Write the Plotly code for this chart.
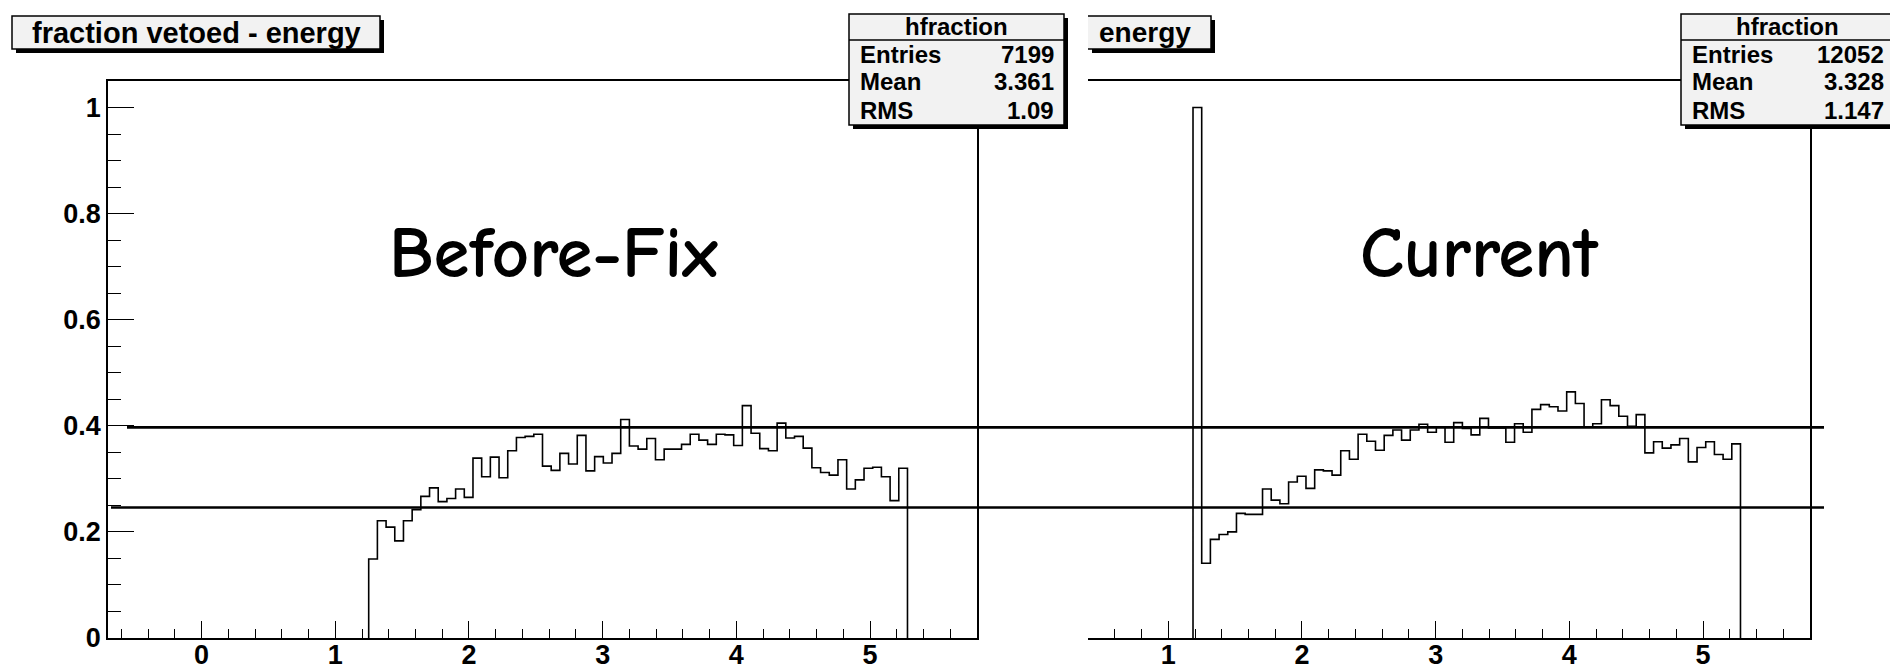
import numpy as np
import plotly.graph_objects as go

# ---------------- data ----------------
# histogram binning (hfraction): 100 bins from -0.7 to 5.8
X_MIN, X_MAX, N_BINS = -0.7, 5.8, 100
Y_MAX = 1.05

# "Before-Fix" histogram: contents of bins 30..91
before_first_bin = 30
before_values = [
    0.149, 0.221, 0.209, 0.183, 0.221, 0.242, 0.267, 0.283, 0.257, 0.263,
    0.281, 0.265, 0.339, 0.304, 0.341, 0.302, 0.353, 0.378, 0.380, 0.384,
    0.324, 0.316, 0.348, 0.328, 0.382, 0.315, 0.342, 0.330, 0.348, 0.412,
    0.362, 0.356, 0.376, 0.336, 0.356, 0.356, 0.365, 0.384, 0.373, 0.365,
    0.384, 0.383, 0.363, 0.438, 0.386, 0.357, 0.353, 0.405, 0.377, 0.380,
    0.358, 0.321, 0.312, 0.307, 0.336, 0.281, 0.298, 0.320, 0.322, 0.304,
    0.259, 0.320,
]

# "Current" histogram: contents of bins 29..91
current_first_bin = 29
current_values = [
    1.000,
    0.141, 0.186, 0.195, 0.200, 0.235, 0.233, 0.233, 0.281, 0.260, 0.253,
    0.294, 0.305, 0.282, 0.317, 0.315, 0.307, 0.353, 0.337, 0.384, 0.371,
    0.354, 0.382, 0.392, 0.373, 0.392, 0.403, 0.388, 0.398, 0.369, 0.406,
    0.395, 0.383, 0.414, 0.396, 0.396, 0.369, 0.404, 0.388, 0.431, 0.440,
    0.436, 0.428, 0.464, 0.442, 0.398, 0.404, 0.449, 0.438, 0.418, 0.399,
    0.421, 0.349, 0.370, 0.358, 0.364, 0.376, 0.332, 0.359, 0.370, 0.346,
    0.337, 0.366,
]

# reference cut lines
cut_levels = [0.397, 0.246]

title_text = "fraction vetoed - energy"
stats_before = {"name": "hfraction", "rows": [("Entries", "7199"), ("Mean", "3.361"), ("RMS", "1.09")]}
stats_current = {"name": "hfraction", "rows": [("Entries", "12052"), ("Mean", "3.328"), ("RMS", "1.147")]}
label_before = "Before-Fix"
label_current = "Current"

y_tick_vals = [0, 0.2, 0.4, 0.6, 0.8, 1.0]
y_tick_text = ["0", "0.2", "0.4", "0.6", "0.8", "1"]
x_tick_vals = [0, 1, 2, 3, 4, 5]

# ---------------- layout helpers ----------------
W, H = 1890, 664
def PX(x):
    return x / W
def PY(y):
    return 1 - y / H

BIN_W = (X_MAX - X_MIN) / N_BINS

def step_path(first_bin, values):
    edges = X_MIN + BIN_W * (first_bin + np.arange(len(values) + 1))
    xs = [edges[0]] + list(edges[:-1]) + [edges[-1], edges[-1]]
    ys = [0.0] + list(values) + [values[-1], 0.0]
    return xs, ys

BOLD = "Liberation Sans, Arial, Helvetica, sans-serif"
COMIC = "Comic Sans MS, Comic Neue, Open Sans, sans-serif"

fig = go.Figure()

xb, yb = step_path(before_first_bin, before_values)
fig.add_trace(go.Scatter(x=xb, y=yb, mode="lines", line=dict(color="black", width=1.6, shape="hv"),
                         xaxis="x", yaxis="y", hoverinfo="skip", showlegend=False))
xc, yc = step_path(current_first_bin, current_values)
fig.add_trace(go.Scatter(x=xc, y=yc, mode="lines", line=dict(color="black", width=1.6, shape="hv"),
                         xaxis="x2", yaxis="y2", hoverinfo="skip", showlegend=False))

# frame geometry (pixels)
L_X0, L_X1 = 108, 977
R_X0, R_X1 = 1088, 1810
F_Y0, F_Y1 = 81, 638
# visible left edge of the right pad in data units
r_range_lo = X_MAX - (R_X1 - R_X0) / ((L_X1 - L_X0) / (X_MAX - X_MIN))

tickfont = dict(family=BOLD, size=27, color="black", weight="bold")
xcommon = dict(showgrid=False, zeroline=False, showline=True, linecolor="black", linewidth=1.6,
               ticks="inside", ticklen=17, tickwidth=1.4, tickcolor="black",
               tickmode="array", tickvals=x_tick_vals, ticktext=[str(v) for v in x_tick_vals],
               minor=dict(dtick=0.2, tick0=0, ticks="inside", ticklen=9, tickwidth=1.4, tickcolor="black"),
               tickfont=tickfont, mirror=True, ticklabelstandoff=-8, automargin=False)

fig.update_layout(
    width=W, height=H, margin=dict(l=0, r=0, t=0, b=0, autoexpand=False),
    paper_bgcolor="white", plot_bgcolor="white", showlegend=False,
    xaxis=dict(domain=[PX(L_X0), PX(L_X1)], range=[X_MIN, X_MAX], anchor="y", **xcommon),
    yaxis=dict(domain=[PY(F_Y1), PY(F_Y0)], range=[0, Y_MAX], anchor="x", automargin=False,
               showgrid=False, zeroline=False, showline=True, linecolor="black", linewidth=1.6, mirror=True,
               ticks="inside", ticklen=26, tickwidth=1.4, tickcolor="black",
               tickmode="array", tickvals=y_tick_vals, ticktext=y_tick_text,
               minor=dict(dtick=0.05, tick0=0, ticks="inside", ticklen=13, tickwidth=1.4, tickcolor="black"),
               tickfont=tickfont),
    xaxis2=dict(domain=[PX(R_X0), PX(R_X1)], range=[r_range_lo, X_MAX], anchor="y2", **xcommon),
    yaxis2=dict(domain=[PY(F_Y1), PY(F_Y0)], range=[0, Y_MAX], anchor="x2", side="right", automargin=False,
                showgrid=False, zeroline=False, showline=True, linecolor="black", linewidth=1.6,
                ticks="", showticklabels=False),
)

shapes = []
annotations = []
BOXFILL = "#f2f2f2"

def box(x0, y0, x1, y1, shadow=4, left_border=True):
    shapes.append(dict(type="rect", xref="paper", yref="paper", layer="above",
                       x0=PX(x0 + shadow), x1=PX(x1 + shadow), y0=PY(y1 + shadow), y1=PY(y0 + shadow),
                       fillcolor="black", line=dict(width=0)))
    if left_border:
        shapes.append(dict(type="rect", xref="paper", yref="paper", layer="above",
                           x0=PX(x0), x1=PX(x1), y0=PY(y1), y1=PY(y0),
                           fillcolor=BOXFILL, line=dict(color="black", width=1.5)))
    else:
        shapes.append(dict(type="rect", xref="paper", yref="paper", layer="above",
                           x0=PX(x0), x1=PX(x1), y0=PY(y1), y1=PY(y0),
                           fillcolor=BOXFILL, line=dict(width=0)))
        shapes.append(dict(type="path", xref="paper", yref="paper", layer="above",
                           path=f"M {PX(x0)} {PY(y0)} L {PX(x1)} {PY(y0)} L {PX(x1)} {PY(y1)} L {PX(x0)} {PY(y1)}",
                           line=dict(color="black", width=1.5)))

def text(x, y, s, size, anchor="center", family=BOLD, weight="bold"):
    annotations.append(dict(xref="paper", yref="paper", x=PX(x), y=PY(y), text=s, showarrow=False,
                            xanchor=anchor, yanchor="middle",
                            font=dict(family=family, size=size, color="black", weight=weight)))

# cut lines across both pads
for lvl, x0 in zip(cut_levels, [127, 111]):
    shapes.append(dict(type="line", xref="paper", yref="y", layer="above",
                       x0=PX(x0), x1=PX(1824), y0=lvl, y1=lvl, line=dict(color="black", width=2.6)))

# title boxes
box(12, 16, 380, 49)
text(196, 33, title_text, 29)
box(1088, 16, 1211, 49, left_border=False)
text(1193, 33, "energy", 28, anchor="right")

# stats boxes
def stats(x0, x1, st):
    box(x0, 14, x1, 125)
    shapes.append(dict(type="line", xref="paper", yref="paper", layer="above",
                       x0=PX(x0), x1=PX(x1), y0=PY(40), y1=PY(40), line=dict(color="black", width=1.5)))
    text((x0 + x1) / 2, 27, st["name"], 24)
    for i, (k, v) in enumerate(st["rows"]):
        yy = 54 + 28 * i
        text(x0 + 9, yy, k, 24, anchor="left")
        text(x1 - 8, yy, v, 24, anchor="right")

stats(849, 1064, stats_before)
stats(1681, 1894, stats_current)

# handwritten labels
text(553, 253, label_before, 73, family=COMIC, weight="bold")
text(1479, 253, label_current, 73, family=COMIC, weight="bold")

fig.update_layout(shapes=shapes, annotations=annotations)
fig.write_html("out.html", config={"displayModeBar": False, "responsive": False},
               post_script="document.body.style.margin='0';document.body.style.overflow='hidden';")
